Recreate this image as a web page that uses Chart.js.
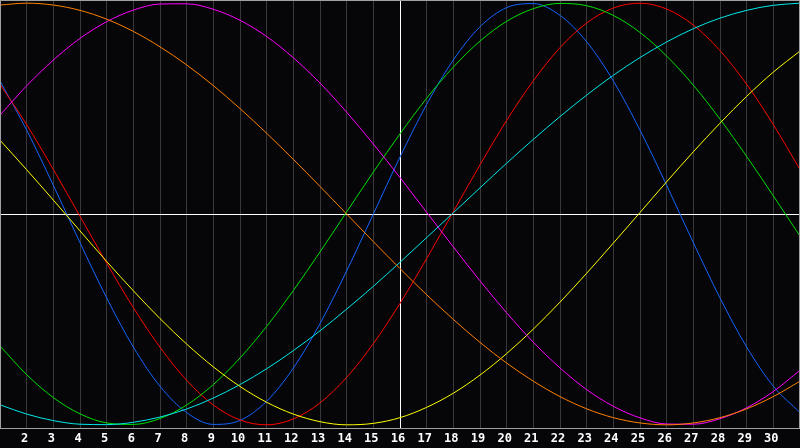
<!DOCTYPE html>
<html>
<head>
<meta charset="utf-8">
<title>Cycles</title>
<script src="https://cdn.jsdelivr.net/npm/chart.js@4.4.1/dist/chart.umd.min.js"></script>
<style>
  html, body { margin: 0; padding: 0; background: #060609; }
  #chartArea { display: block; }
</style>
</head>
<body>
<canvas id="chartArea" width="800" height="448"></canvas>
<script>
// days 1..31, values (-1 .. 1)
const days = [1,2,3,4,5,6,7,8,9,10,11,12,13,14,15,16,17,18,19,20,21,22,23,24,25,26,27,28,29,30,31];
const markerDay = 16;

const redVals = [0.615,0.424,0.211,-0.011,-0.233,-0.444,-0.632,-0.789,-0.906,-0.977,-1.000,-0.972,-0.896,-0.775,-0.615,-0.424,-0.211,0.011,0.233,0.444,0.632,0.789,0.906,0.977,1.000,0.972,0.896,0.775,0.615,0.424,0.211];
const blueVals = [0.631,0.398,0.136,-0.136,-0.398,-0.631,-0.817,-0.942,-0.998,-0.979,-0.888,-0.731,-0.520,-0.270,0.000,0.270,0.520,0.731,0.888,0.979,0.998,0.942,0.817,0.631,0.398,0.136,-0.136,-0.398,-0.631,-0.817,-0.942];
const greenVals = [-0.626,-0.762,-0.871,-0.948,-0.991,-0.998,-0.970,-0.906,-0.809,-0.683,-0.533,-0.363,-0.180,0.010,0.199,0.380,0.549,0.697,0.820,0.914,0.974,0.999,0.988,0.942,0.861,0.749,0.611,0.450,0.273,0.086,-0.105];
const cyanVals = [-0.905,-0.949,-0.980,-0.997,-0.999,-0.988,-0.963,-0.925,-0.873,-0.809,-0.734,-0.648,-0.554,-0.451,-0.343,-0.229,-0.112,0.006,0.124,0.241,0.354,0.462,0.564,0.658,0.742,0.816,0.879,0.929,0.966,0.990,1.000];
const yellowVals = [0.350,0.210,0.066,-0.080,-0.225,-0.364,-0.496,-0.617,-0.725,-0.818,-0.893,-0.949,-0.985,-1.000,-0.993,-0.966,-0.917,-0.850,-0.764,-0.662,-0.546,-0.418,-0.281,-0.138,0.007,0.153,0.295,0.431,0.558,0.673,0.773];
const magentaVals = [0.469,0.608,0.730,0.833,0.912,0.967,0.996,0.997,0.971,0.919,0.842,0.741,0.621,0.483,0.332,0.173,0.008,-0.156,-0.317,-0.469,-0.608,-0.730,-0.833,-0.912,-0.967,-0.996,-0.997,-0.971,-0.919,-0.842,-0.741];
const orangeVals = [0.991,1.000,0.991,0.966,0.924,0.866,0.793,0.707,0.609,0.500,0.383,0.259,0.131,0.000,-0.131,-0.259,-0.383,-0.500,-0.609,-0.707,-0.793,-0.866,-0.924,-0.966,-0.991,-1.000,-0.991,-0.966,-0.924,-0.866,-0.793];

function series(vals, color) {
  return {
    data: days.map((d, i) => ({ x: d, y: vals[i] })),
    borderColor: color,
    borderWidth: 1,
    pointRadius: 0,
    pointHoverRadius: 0,
    cubicInterpolationMode: 'monotone',
    fill: false
  };
}

// black background + grey frame around the plot
const framePlugin = {
  id: 'frame',
  beforeDraw(chart) {
    const c = chart.ctx;
    c.save();
    c.fillStyle = '#060609';
    c.fillRect(0, 0, chart.width, chart.height);
    c.restore();
  },
  afterDraw(chart) {
    const a = chart.chartArea;
    const c = chart.ctx;
    c.save();
    c.strokeStyle = '#a0a0a0';
    c.lineWidth = 1;
    c.strokeRect(a.left + 0.5, a.top + 0.5, a.right - a.left - 1, a.bottom - a.top);
    c.restore();
  }
};

new Chart(document.getElementById('chartArea').getContext('2d'), {
  type: 'line',
  data: {
    datasets: [
      series(orangeVals, '#ff8000'),
      series(magentaVals, '#ff00ff'),
      series(yellowVals, '#ffff00'),
      series(cyanVals, '#00e8e8'),
      series(greenVals, '#00e000'),
      series(redVals, '#ff0000'),
      series(blueVals, '#1464ff')
    ]
  },
  options: {
    responsive: false,
    animation: false,
    devicePixelRatio: 1,
    layout: { padding: 0 },
    plugins: { legend: { display: false }, tooltip: { enabled: false } },
    scales: {
      x: {
        type: 'linear',
        min: days[0],
        max: days[days.length - 1],
        afterBuildTicks: s => { s.ticks = days.map(d => ({ value: d })); },
        afterFit: s => { s.height = 20; },
        border: { display: false },
        grid: {
          drawTicks: false,
          color: ctx => {
            const v = ctx.tick && ctx.tick.value;
            if (v === markerDay) return '#ffffff';
            if (v === days[0] || v === days[days.length - 1]) return 'rgba(0,0,0,0)';
            return '#383838';
          }
        },
        ticks: {
          color: '#ffffff',
          padding: 0,
          maxRotation: 0,
          autoSkip: false,
          labelOffset: -2,
          font: { family: 'DejaVu Sans Mono', size: 12, weight: 'bold', lineHeight: 1.85 },
          callback: v => (v === days[0] || v === days[days.length - 1]) ? '' : String(v)
        }
      },
      y: {
        type: 'linear',
        min: -1.015,
        max: 1.015,
        afterBuildTicks: s => { s.ticks = [{ value: 0 }]; },
        afterFit: s => { s.width = 0; },
        border: { display: false },
        grid: { drawTicks: false, color: '#ffffff' },
        ticks: { display: false }
      }
    }
  },
  plugins: [framePlugin]
});
</script>
</body>
</html>
